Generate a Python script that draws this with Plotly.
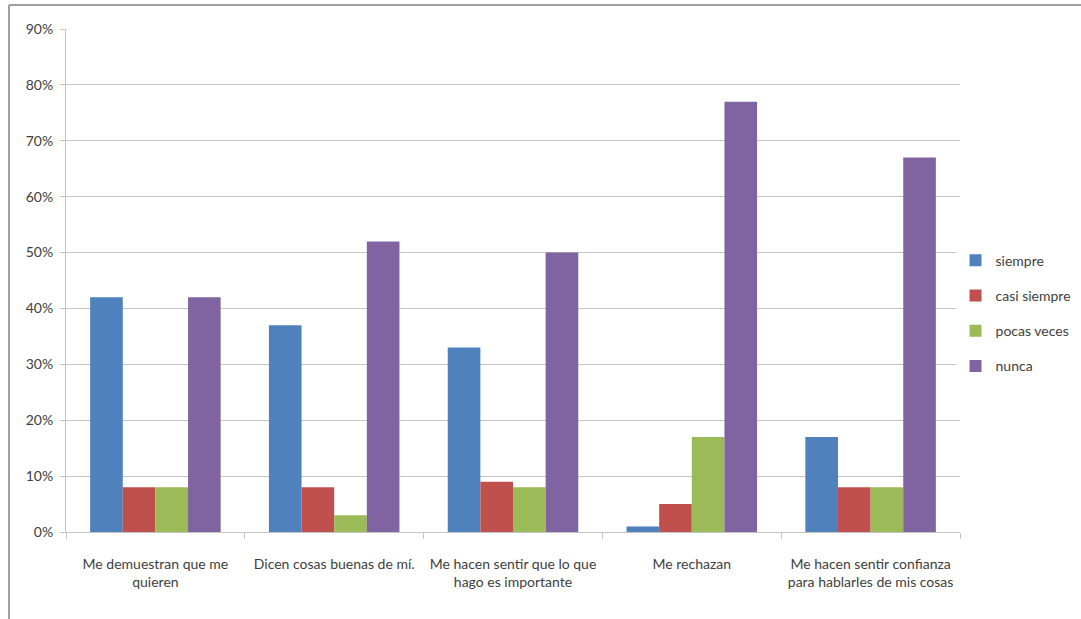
import plotly.graph_objects as go

categories = [
    "Me demuestran que me<br>quieren",
    "Dicen cosas buenas de mí.",
    "Me hacen sentir que lo que<br>hago es importante",
    "Me rechazan",
    "Me hacen sentir confianza<br>para hablarles de mis cosas",
]
siempre = [42, 37, 33, 1, 17]
casi_siempre = [8, 8, 9, 5, 8]
pocas_veces = [8, 3, 8, 17, 8]
nunca = [42, 52, 50, 77, 67]

series_names = ["siempre", "casi siempre", "pocas veces", "nunca"]
series_values = [siempre, casi_siempre, pocas_veces, nunca]
colors = ["#4F81BD", "#C0504D", "#9BBB59", "#8064A2"]

FONT = "Lato, Open Sans, sans-serif"

fig = go.Figure()
for name, vals, col in zip(series_names, series_values, colors):
    fig.add_trace(go.Bar(
        x=categories, y=[v / 100 for v in vals], name=name,
        marker=dict(color=col, line=dict(width=0)),
        legendgroup=name,
    ))

fig.update_layout(
    width=1081, height=619,
    barmode="group", bargap=0.27, bargroupgap=0,
    plot_bgcolor="white", paper_bgcolor="white",
    margin=dict(l=66, r=121, t=29, b=87, autoexpand=False),
    font=dict(family=FONT, size=14, color="#404040"),
    legend=dict(x=0.995, y=0.435, xanchor="left", yanchor="middle",
                font=dict(family=FONT, size=14, color="#404040"),
                tracegroupgap=14, itemwidth=30, traceorder="grouped"),
    showlegend=True,
)
fig.update_yaxes(range=[0, 0.9], dtick=0.1, tickformat=".0%",
                 showgrid=True, gridcolor="#C4C4C4", gridwidth=1,
                 showline=True, linecolor="#C4C4C4", linewidth=1,
                 ticks="outside", ticklen=5, tickcolor="#C4C4C4",
                 zeroline=False, ticklabelstandoff=4,
                 tickfont=dict(family=FONT, size=14, color="#404040"))
fig.update_xaxes(showline=True, linecolor="#C4C4C4", linewidth=1,
                 ticks="outside", ticklen=6, tickcolor="#C4C4C4",
                 tickson="boundaries", tickangle=0, ticklabelstandoff=19,
                 tickfont=dict(family=FONT, size=14, color="#404040"))

# outer frame (left and top edges)
fig.add_shape(type="line", xref="paper", yref="paper",
              x0=(9 - 66) / 894, x1=(9 - 66) / 894,
              y0=(532 - 5) / 503, y1=(532 - 619) / 503,
              line=dict(color="#A0A0A0", width=2))
fig.add_shape(type="line", xref="paper", yref="paper",
              x0=(9 - 66) / 894, x1=(1081 - 66) / 894,
              y0=(532 - 5) / 503, y1=(532 - 5) / 503,
              line=dict(color="#A0A0A0", width=2))

fig.write_html("out.html", config={"displayModeBar": False},
               post_script="document.body.style.margin='0';document.body.style.overflow='hidden';")
